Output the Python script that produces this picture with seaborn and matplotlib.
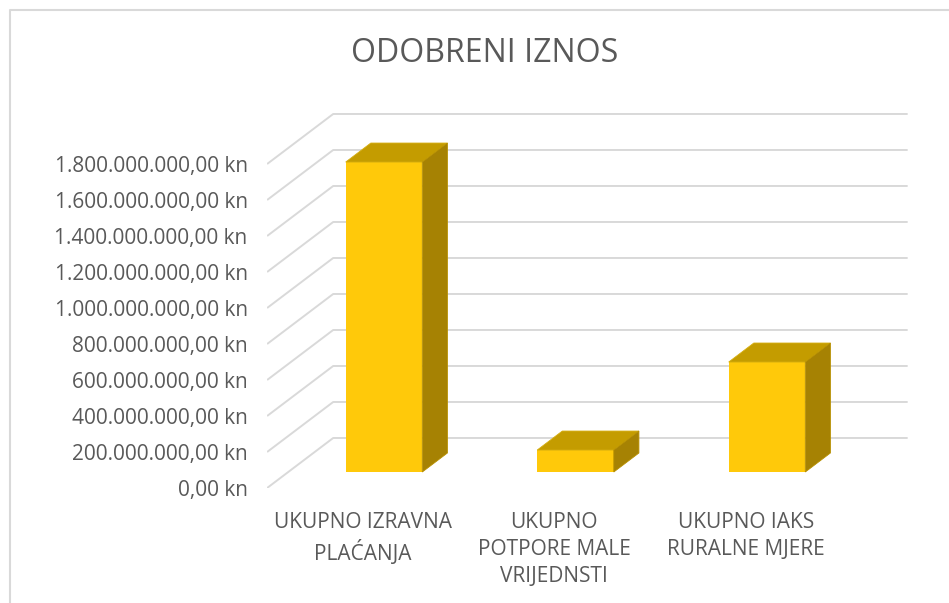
import numpy as np
import pandas as pd
import matplotlib
matplotlib.use('Agg')
import matplotlib.pyplot as plt
import seaborn as sns
from matplotlib.patches import Polygon
from matplotlib.lines import Line2D

categories = ['UKUPNO IZRAVNA\nPLAĆANJA', 'UKUPNO\nPOTPORE MALE\nVRIJEDNSTI', 'UKUPNO IAKS\nRURALNE MJERE']
values = [1_722_000_000, 122_000_000, 611_000_000]
tick_values = [0, 200_000_000, 400_000_000, 600_000_000, 800_000_000,
               1_000_000_000, 1_200_000_000, 1_400_000_000, 1_600_000_000, 1_800_000_000]
title = 'ODOBRENI IZNOS'

front_color = '#FFC90A'
top_color = '#C49C00'
side_color = '#A68203'
grid_color = '#D9D9D9'
text_color = '#595959'

# fake 3D: oblique depth of the whole box in data units (0 = front plane, 1 = back wall)
depth_x = 0.345
depth_y = 277.8e6
bar_t0, bar_t1 = 0.32, 0.70
bar_w = 0.4


def shift(t):
    return depth_x * (t - bar_t0), depth_y * (t - bar_t0)


def fmt_kn(v):
    s = f"{v:,.2f}".replace(',', 'X').replace('.', ',').replace('X', '.')
    return s + ' kn'


sns.set_theme(style='white')
plt.rcParams['font.family'] = ['Open Sans', 'DejaVu Sans']

W, H = 949, 603
fig = plt.figure(figsize=(W / 100, H / 100), dpi=100)

# pixel anchors of the bar front plane (category 0 centre, value 0)
x0_px, y0_px = 384, 472
px_x, px_y = 191.5, 0.18e-6
fx, fy = shift(0)
bx, by = shift(1)
xlim = (-0.5 + fx, 2.5 + bx + 0.02)
ylim = (fy, 1.8e9 + by + 0.02e9)
left = x0_px + px_x * xlim[0]
right = x0_px + px_x * xlim[1]
bottom = y0_px - px_y * ylim[0]
top = y0_px - px_y * ylim[1]
ax = fig.add_axes([left / W, 1 - bottom / H, (right - left) / W, (bottom - top) / H])

# gridlines: left side wall + back wall
for v in tick_values:
    ax.plot([-0.5 + fx, -0.5 + bx, 2.5 + bx], [v + fy, v + by, v + by],
            color=grid_color, lw=1.4, zorder=0, solid_capstyle='butt')

df = pd.DataFrame({'kategorija': categories, 'iznos': values})
sns.barplot(data=df, x='kategorija', y='iznos', color=front_color, saturation=1,
            width=bar_w, linewidth=0, ax=ax, zorder=3)

ddx = depth_x * (bar_t1 - bar_t0)
ddy = depth_y * (bar_t1 - bar_t0)
for i, v in enumerate(values):
    l, r = i - bar_w / 2, i + bar_w / 2
    ax.add_patch(Polygon([(l, v), (r, v), (r + ddx, v + ddy), (l + ddx, v + ddy)],
                         closed=True, fc=top_color, ec='#D6AE10', lw=0.6, zorder=4))
    ax.add_patch(Polygon([(r, 0), (r, v), (r + ddx, v + ddy), (r + ddx, ddy)],
                         closed=True, fc=side_color, ec='#B89000', lw=0.6, zorder=4))

ax.set_xlim(*xlim)
ax.set_ylim(*ylim)
ax.set_yticks([v + fy for v in tick_values], [fmt_kn(v) for v in tick_values])
ax.set_xticks([i + fx for i in range(len(categories))], categories)
ax.tick_params(axis='y', length=0, pad=14, labelsize=15, labelcolor=text_color)
ax.tick_params(axis='x', length=0, pad=17, labelsize=15, labelcolor=text_color)
for lbl in ax.get_xticklabels():
    lbl.set_linespacing(1.38)
ax.set_xlabel('')
ax.set_ylabel('')
for s in ax.spines.values():
    s.set_visible(False)

fig.text(485 / W, 1 - 54 / H, title, ha='center', va='center', fontsize=23, color=text_color)

# chart area border (left and top edges visible in the crop)
fig.add_artist(Line2D([9.5 / W, 9.5 / W, 1], [0, 1 - 9.5 / H, 1 - 9.5 / H],
                      transform=fig.transFigure, color='#D9D9D9', lw=1.5))

fig.savefig('out.png', dpi=100, facecolor='white')
